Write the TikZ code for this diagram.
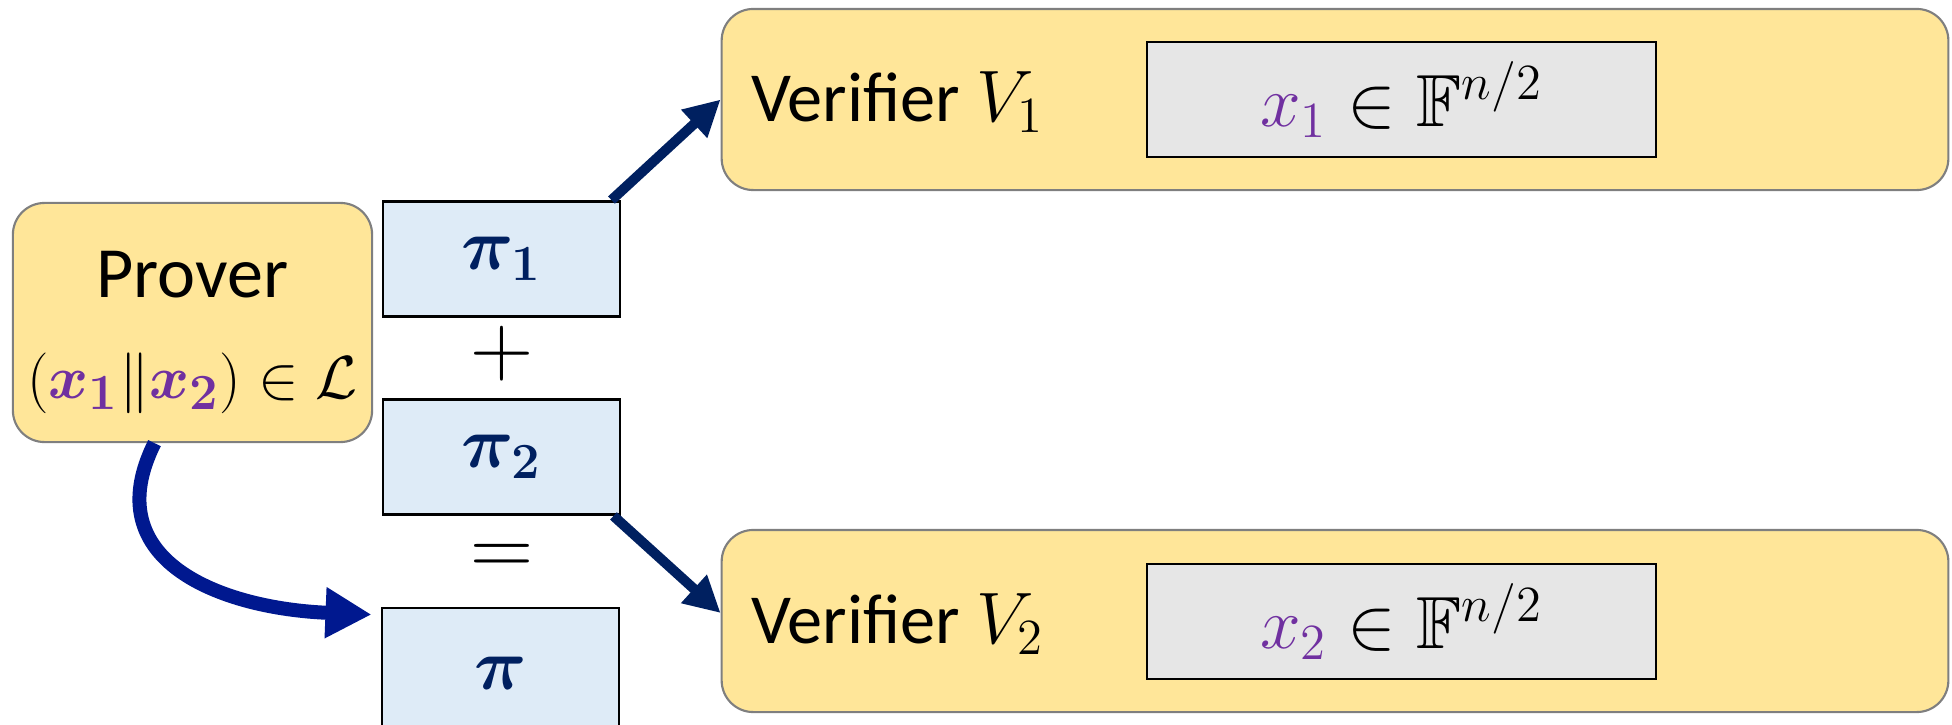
\documentclass[tikz,border=0pt]{standalone}
\usepackage{amsmath,amssymb,bm}
\usepackage{fontspec}
\setmainfont{Carlito}
\definecolor{pvyellow}{RGB}{255,230,153}
\definecolor{pvedge}{RGB}{127,127,127}
\definecolor{pflight}{RGB}{222,235,247}
\definecolor{pfnavy}{RGB}{0,32,96}
\definecolor{stmtgray}{RGB}{230,230,230}
\definecolor{wpurple}{RGB}{112,48,160}
\definecolor{curveblue}{RGB}{0,24,143}
\usetikzlibrary{arrows.meta,positioning,calc}

\newcommand{\wit}[1]{\textcolor{wpurple}{#1}}
\newcommand{\pf}[1]{\raisebox{-2.4pt}{$\bm{#1}$}}

\begin{document}
\begin{tikzpicture}[
  x=0.01cm,y=-0.01cm,
  yellowbox/.style={draw=pvedge,line width=0.6pt,fill=pvyellow,rounded corners=9pt,inner sep=0pt},
  proofbox/.style={draw=black,line width=0.8pt,fill=pflight,minimum width=2.37cm,
                   minimum height=1.15cm,text=pfnavy,font=\fontsize{20.5}{24}\selectfont},
  stmtbox/.style={draw=black,line width=0.6pt,fill=stmtgray,minimum width=5.09cm,
                  minimum height=1.15cm,font=\fontsize{21}{25}\selectfont},
  vlabel/.style={anchor=west,inner sep=0pt,font=\fontsize{20}{24}\selectfont},
  opsym/.style={inner sep=0pt,font=\fontsize{23}{26}\selectfont},
  sendarr/.style={-{Triangle[length=0.36cm,width=0.36cm]},line width=0.1cm,pfnavy},
  curvearr/.style={-{Triangle[length=0.46cm,width=0.48cm]},line width=0.14cm,curveblue},
]
  \useasboundingbox (0,0) rectangle (1952,724);

  % prover
  \node[yellowbox,minimum width=3.59cm,minimum height=2.39cm] (prover) at (192.5,322.5) {};
  \node[align=center,inner sep=0pt,font=\fontsize{20.5}{28.5}\selectfont] (proverlbl)
       at ($(prover.center)+(0,10)$)
       {Prover\\{\fontsize{19}{28.5}\selectfont$(\wit{\bm{x_1}}\|\wit{\bm{x_2}})\in\mathcal{L}$}};

  % proof pieces
  \node[proofbox] (pi1) at (501.5,259) {\pf{\pi_1}};
  \node[opsym]    (plus) at (502,354) {$+$};
  \node[proofbox] (pi2) at (501.5,457) {\pf{\pi_2}};
  \node[opsym]    (eq) at (502,560) {$=$};
  \node[proofbox,minimum height=1.3cm] (pi) at (500.5,673) {$\bm{\pi}$};

  % verifiers
  \node[yellowbox,minimum width=12.26cm,minimum height=1.81cm] (ver1) at (1335,99.5) {};
  \node[vlabel] (ver1lbl) at ($(ver1.west)+(30,3)$) {Verifier $V_1$};
  \node[stmtbox] (stmt1) at (1401.5,99.5) {\raisebox{-1pt}{$\wit{x_1}\in\mathbb{F}^{n/2}$}};

  \node[yellowbox,minimum width=12.26cm,minimum height=1.82cm] (ver2) at (1335,621) {};
  \node[vlabel] (ver2lbl) at ($(ver2.west)+(30,3)$) {Verifier $V_2$};
  \node[stmtbox] (stmt2) at (1401.5,621.5) {\raisebox{-1pt}{$\wit{x_2}\in\mathbb{F}^{n/2}$}};

  % sending the halves
  \draw[sendarr] ($(pi1.north east)+(-10,0)$) -- (ver1.west);
  \draw[sendarr] ($(pi2.south east)+(-8,0)$) -- ($(ver2.west)+(0,-8)$);

  % prover builds pi
  \draw[curvearr] ($(prover.south)+(-38,0)$) .. controls +(-59,118) and +(-150,-6) ..
    ($(pi.north west)+(-9,8)$);
\end{tikzpicture}
\end{document}
